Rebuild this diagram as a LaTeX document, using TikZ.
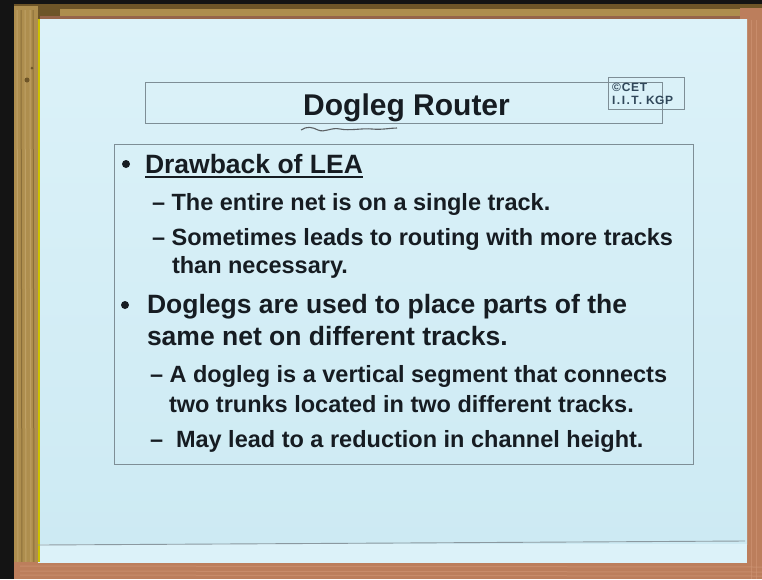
\documentclass[tikz,border=0pt]{standalone}
\usepackage{fontspec}
\setmainfont{Liberation Sans}

\definecolor{paper}{HTML}{CDEAF3}
\definecolor{paperlight}{HTML}{DCF2F9}
\definecolor{ink}{HTML}{161C22}
\definecolor{rulegray}{HTML}{7E8E96}
\definecolor{logoink}{HTML}{30475A}
\definecolor{woodgold}{HTML}{AE8E4E}
\definecolor{woodlight}{HTML}{CDB27A}
\definecolor{wooddark}{HTML}{6E5528}
\definecolor{woodred}{HTML}{BC7E5C}
\definecolor{woodredlight}{HTML}{D09676}

\begin{document}
\begin{tikzpicture}[x=1pt,y=-1pt,
  body/.style={anchor=base west,inner sep=0pt,outer sep=0pt,text=ink,
    font=\bfseries\fontsize{23.5}{28}\selectfont},
  lead/.style={body,font=\bfseries\fontsize{26.5}{32}\selectfont},
  frame/.style={draw=rulegray,line width=0.9pt,anchor=north west,inner sep=0pt},
  dot/.style={circle,fill=ink,inner sep=0pt,minimum size=8pt},
  logo/.style={anchor=base west,inner sep=0pt,text=logoink,
    font=\bfseries\fontsize{12}{13}\selectfont}]
\useasboundingbox (0,0) rectangle (762,579);

% board and frame
\fill[black!92] (0,0) rectangle (762,579);
\fill[wooddark] (14,4) rectangle (762,20);
\fill[woodgold] (60,9) rectangle (762,16);
\fill[woodred!80!black] (40,16) rectangle (747,19);
\fill[woodgold] (14,6) rectangle (38,572);
\foreach \gx/\gc in {17/woodlight,21/wooddark,25/woodlight,30/woodlight,33/wooddark}
  \draw[\gc,line width=1pt,opacity=0.55] (\gx,10) -- (\gx+1,568);
\fill[wooddark] (27,80) circle (2.5);
\fill[wooddark] (32,68) circle (1.5);
\fill[woodred] (740,8) rectangle (762,579);
\fill[woodred] (14,562) rectangle (762,579);
\foreach \gy in {566,571,575}
  \draw[woodredlight,line width=1pt,opacity=0.6] (20,\gy) -- (762,\gy+1);
\foreach \gx in {751,756}
  \draw[woodredlight,line width=1pt,opacity=0.6] (\gx,20) -- (\gx,579);

% paper sheet
\shade[top color=paperlight,bottom color=paper] (38,19) rectangle (747,544);
\fill[paperlight] (38,544) rectangle (747,563);
\draw[yellow!55!olive,line width=1.2pt] (39,19) -- (39,562);
\draw[rulegray!90,line width=0.9pt] (38,545) -- (400,543) -- (745,541);

% title bar and logo
\node (titlebox) [frame,minimum width=517pt,minimum height=41pt] at (145,82) {};
\node (logobox) [frame,minimum width=76pt,minimum height=32pt] at (608,77) {};
\node (logoa) [logo] at (612,91) {\addfontfeature{LetterSpace=6}©CET};
\node (logob) [logo] at (612,104) {\addfontfeature{LetterSpace=12}I.I.T.\hspace{4pt}\addfontfeature{LetterSpace=4}KGP};
\node (title) [anchor=base west,inner sep=0pt,text=ink,
  font=\bfseries\fontsize{30}{36}\selectfont] at (303,115) {Dogleg Router};
\draw[ink!70,line width=1.1pt] (301,130) .. controls (307,126) and (312,127) .. (318,130)
  .. controls (325,133) and (331,127) .. (340,129)
  .. controls (350,131) and (362,128) .. (372,129)
  .. controls (382,130) and (390,128) .. (397,128);

% content box
\node (bodybox) [frame,minimum width=579pt,minimum height=320pt] at (114,144) {};

\node (dota) [dot] at (126,164) {};
\node (la) [lead] at (145,173) {Drawback of LEA};
\draw[ink,line width=1.8pt] ([yshift=-4pt]la.base west) -- ([yshift=-4pt]la.base east);
\node (lb) [body] at (152,210) {– The entire net is on a single track.};
\node (lc) [body] at (152,245) {– Sometimes leads to routing with more tracks};
\node (ld) [body] at (172,273) {than necessary.};

\node (dotb) [dot] at (125,305) {};
\node (le) [lead] at (147,313) {Doglegs are used to place parts of the};
\node (lf) [lead] at (147,345) {same net on different tracks.};
\node (lg) [body] at (150,382) {– A dogleg is a vertical segment that connects};
\node (lh) [body] at (169,412) {two trunks located in two different tracks.};
\node (lidash) [body] at (150,447) {–};
\node (li) [body] at (176,447) {May lead to a reduction in channel height.};
\end{tikzpicture}
\end{document}
